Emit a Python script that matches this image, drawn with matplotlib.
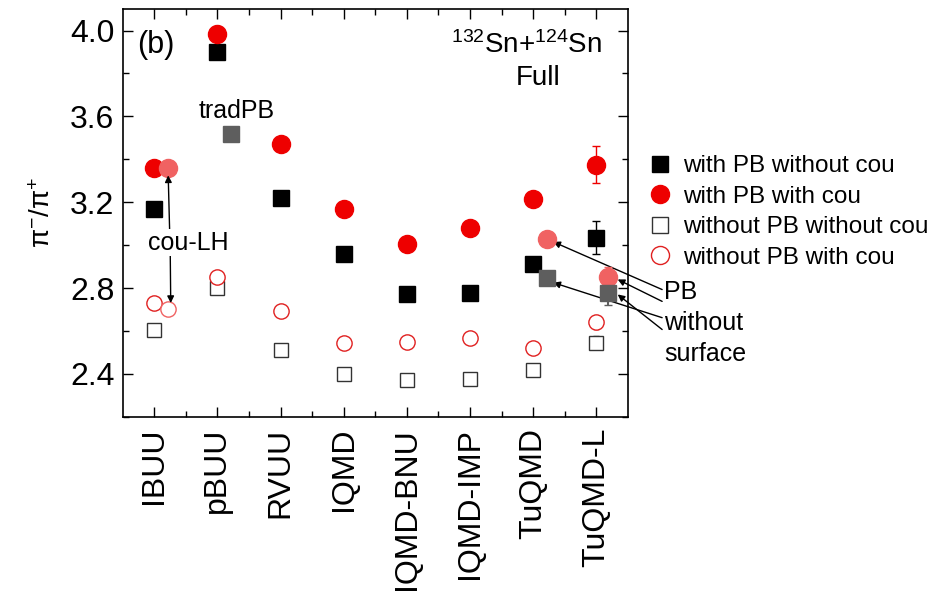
import matplotlib
matplotlib.use("Agg")
import matplotlib.pyplot as plt
from matplotlib.lines import Line2D
import numpy as np

plt.rcParams['font.family'] = ['Liberation Sans', 'DejaVu Sans']
plt.rcParams['mathtext.fontset'] = 'custom'
plt.rcParams['mathtext.rm'] = 'Liberation Sans'
plt.rcParams['mathtext.it'] = 'Liberation Sans:italic'

models = ['IBUU', 'pBUU', 'RVUU', 'IQMD', 'IQMD-BNU', 'IQMD-IMP', 'TuQMD', 'TuQMD-L']

# pi-/pi+ ratios
pb_nocou = [3.17, 3.90, 3.22, 2.96, 2.77, 2.775, 2.91, 3.035]
pb_nocou_err = [0.01, 0.03, 0.015, 0.01, 0.01, 0.01, 0.01, 0.075]
pb_cou = [3.36, 3.985, 3.47, 3.17, 3.005, 3.08, 3.215, 3.375]
pb_cou_err = [0.01, 0.035, 0.02, 0.01, 0.01, 0.01, 0.01, 0.085]
nopb_nocou = [2.605, 2.80, 2.51, 2.40, 2.372, 2.375, 2.42, 2.545]
nopb_nocou_err = [0.02, 0.02, 0.02, 0.02, 0.02, 0.02, 0.02, 0.03]
nopb_cou = [2.73, 2.85, 2.695, 2.545, 2.55, 2.567, 2.52, 2.64]
nopb_cou_err = [0.025, 0.025, 0.025, 0.025, 0.025, 0.025, 0.025, 0.03]

# extra variants (index into models)
couLH_idx = 0
couLH_full = 3.36
couLH_open = 2.70
tradPB_idx = 1
tradPB_val = 3.52
pb_var_idx = [6, 7]
pb_var_val = [3.028, 2.85]
pb_var_err = [0.01, 0.05]
nosurf_idx = [6, 7]
nosurf_val = [2.845, 2.775]
nosurf_err = [0.01, 0.055]

legend_labels = ['with PB without cou', 'with PB with cou', 'without PB without cou', 'without PB with cou']

x = np.arange(1, len(models) + 1)
dx = 0.22

fig = plt.figure(figsize=(9.37, 6.04), dpi=100)
ax = fig.add_axes([0.131, 0.31, 0.539, 0.675])

ek = dict(capsize=3, elinewidth=1, capthick=1, linestyle='none')
ax.errorbar(x, pb_nocou, yerr=pb_nocou_err, fmt='s', color='black', ms=11, zorder=4, **ek)
ax.errorbar(x, pb_cou, yerr=pb_cou_err, fmt='o', color='#ee0000', ms=13, zorder=4, **ek)
ax.errorbar(x, nopb_nocou, yerr=nopb_nocou_err, fmt='s', color='#333333', mfc='white', ms=9.5, mew=1, zorder=3,
            capsize=2, elinewidth=0.8, linestyle='none')
ax.errorbar(x, nopb_cou, yerr=nopb_cou_err, fmt='o', color='#e02020', mfc='white', ms=11, mew=1, zorder=3,
            capsize=2, elinewidth=0.8, linestyle='none')

light_red = '#f06262'
grey = '#5e5e5e'
ax.errorbar([x[couLH_idx] + dx], [couLH_full], fmt='o', color=light_red, ms=13, zorder=4, linestyle='none')
ax.errorbar([x[couLH_idx] + dx], [couLH_open], yerr=[0.02], fmt='o', color=light_red, mfc='white', ms=11, mew=1,
            capsize=2, elinewidth=0.8, zorder=3, linestyle='none')
ax.errorbar([x[tradPB_idx] + dx], [tradPB_val], yerr=[0.01], fmt='s', color=grey, ms=11, zorder=4, capsize=3, linestyle='none')
ax.errorbar(x[pb_var_idx] + dx * np.array([1, 0.85]), pb_var_val, yerr=pb_var_err, fmt='o', color=light_red, ms=13,
            zorder=4, capsize=3, linestyle='none')
ax.errorbar(x[nosurf_idx] + dx * np.array([1, 0.85]), nosurf_val, yerr=nosurf_err, fmt='s', color=grey, ms=11,
            zorder=4, capsize=3, linestyle='none')

ax.set_xlim(0.5, 8.5)
ax.set_ylim(2.2, 4.1)
ax.set_xticks(x)
ax.set_xticklabels(models, rotation=90, fontsize=23)
ax.set_xticks(np.arange(1.5, 8.5, 1), minor=True)
ax.set_yticks([2.4, 2.8, 3.2, 3.6, 4.0])
ax.set_yticklabels(['2.4', '2.8', '3.2', '3.6', '4.0'], fontsize=23)
ax.set_yticks(np.arange(2.2, 4.11, 0.2), minor=True)
ax.tick_params(which='both', direction='in', top=True, right=True, width=1)
ax.tick_params(which='major', length=7)
ax.tick_params(which='minor', length=4)
ax.tick_params(axis='x', which='major', pad=8)
ax.tick_params(axis='y', which='major', pad=6)
for s in ax.spines.values():
    s.set_linewidth(1.2)
ax.set_ylabel(r'π$^{-}$/π$^{+}$', fontsize=20, labelpad=10)

ax.text(0.028, 0.912, '(b)', transform=ax.transAxes, fontsize=22, va='center', ha='left')
ax.text(0.80, 0.912, r'$^{132}$Sn+$^{124}$Sn', transform=ax.transAxes, fontsize=20, va='center', ha='center')
ax.text(0.822, 0.831, 'Full', transform=ax.transAxes, fontsize=20, va='center', ha='center')
ax.text(2.31, 3.625, 'tradPB', fontsize=18, va='center', ha='center')
ax.text(1.54, 3.01, 'cou-LH', fontsize=18, va='center', ha='center', zorder=6,
        bbox=dict(facecolor='white', edgecolor='none', pad=1))

arr = dict(arrowstyle='-|>', color='black', lw=1, mutation_scale=10, shrinkA=0, shrinkB=0)
ax.annotate('', xy=(1 + dx, 3.325), xytext=(1 + dx + 0.03, 2.985), arrowprops=arr, zorder=5)
ax.annotate('', xy=(1 + dx + 0.04, 2.73), xytext=(1 + dx + 0.03, 3.035), arrowprops=arr, zorder=5)

# PB / without surface labels outside axes
ax.text(1.072, 0.305, 'PB', transform=ax.transAxes, fontsize=18, va='center', ha='left')
ax.text(1.072, 0.23, 'without', transform=ax.transAxes, fontsize=18, va='center', ha='left')
ax.text(1.072, 0.155, 'surface', transform=ax.transAxes, fontsize=18, va='center', ha='left')
ax.annotate('', xy=(x[6] + dx + 0.1, 3.015), xytext=(1.068, 0.312), textcoords='axes fraction',
            xycoords='data', arrowprops=arr, annotation_clip=False)
ax.annotate('', xy=(x[7] + dx + 0.12, 2.84), xytext=(1.068, 0.283), textcoords='axes fraction',
            xycoords='data', arrowprops=arr, annotation_clip=False)
ax.annotate('', xy=(x[6] + dx + 0.1, 2.825), xytext=(1.068, 0.243), textcoords='axes fraction',
            xycoords='data', arrowprops=arr, annotation_clip=False)
ax.annotate('', xy=(x[7] + dx + 0.12, 2.77), xytext=(1.068, 0.214), textcoords='axes fraction',
            xycoords='data', arrowprops=arr, annotation_clip=False)

hs = [Line2D([], [], marker='s', color='black', ls='none', ms=11),
      Line2D([], [], marker='o', color='#ee0000', ls='none', ms=13),
      Line2D([], [], marker='s', color='#333333', mfc='white', ls='none', ms=11, mew=1),
      Line2D([], [], marker='o', color='#e02020', mfc='white', ls='none', ms=13, mew=1)]
ax.legend(hs, legend_labels, loc='upper left', bbox_to_anchor=(1.02, 0.665), frameon=False, fontsize=17.5,
          handletextpad=0.45, labelspacing=0.35, handlelength=1.0, borderaxespad=0)

fig.savefig('out.png', dpi=100)
